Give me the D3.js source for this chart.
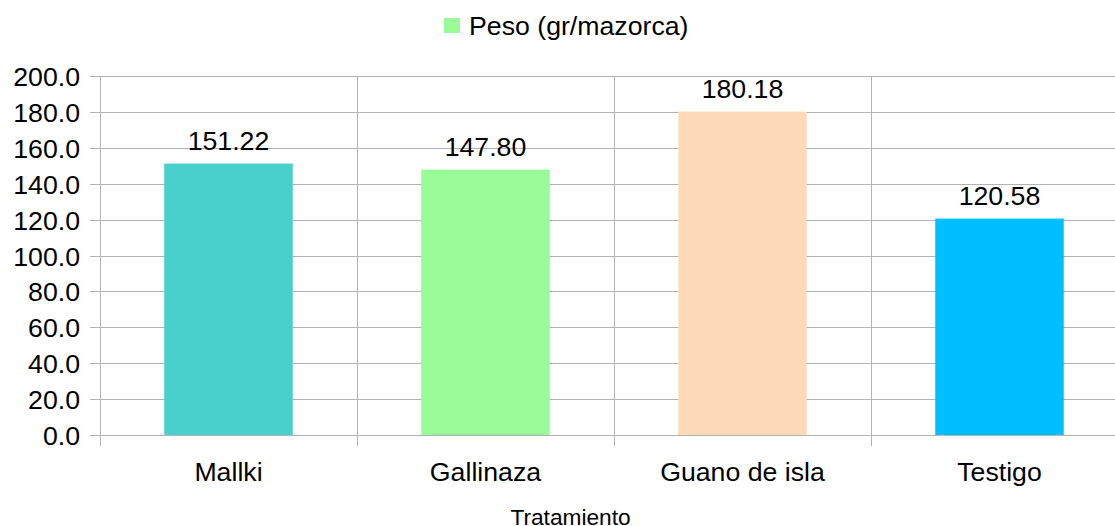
<!DOCTYPE html>
<html>
<head>
<meta charset="utf-8">
<script src="https://cdn.jsdelivr.net/npm/d3@7"></script>
<style>
  html, body { margin: 0; padding: 0; background: #fff; }
  svg { display: block; font-family: "Liberation Sans", Arial, sans-serif; }
</style>
</head>
<body>
<svg id="chart" width="1115" height="526"></svg>
<script>
const categories = ["Mallki", "Gallinaza", "Guano de isla", "Testigo"];
const values = [151.22, 147.80, 180.18, 120.58];
const barColors = ["#48D1CC", "#98FB98", "#FFDAB9", "#00BFFF"];
const yTicks = [0, 20, 40, 60, 80, 100, 120, 140, 160, 180, 200];
const seriesName = "Peso (gr/mazorca)";
const legendColor = "#98FB98";
const xTitle = "Tratamiento";

(function () {
const svg = d3.select("#chart");
const plotLeft = 100, plotRight = 1128, plotTop = 76, plotBottom = 435;
const gridColor = "#b3b3b3";

const x = d3.scaleBand().domain(categories).range([plotLeft, plotRight]).paddingInner(0.5).paddingOuter(0.25);
const y = d3.scaleLinear().domain([0, 200]).range([plotBottom, plotTop]);
const step = x.step();

// horizontal grid + tick marks
svg.append("g").selectAll("line").data(yTicks).join("line")
  .attr("x1", plotLeft - 10).attr("x2", plotRight)
  .attr("y1", d => Math.round(y(d)) + 0.5).attr("y2", d => Math.round(y(d)) + 0.5)
  .attr("stroke", gridColor).attr("stroke-width", 1);

// vertical grid lines at category boundaries
const bounds = categories.map((c, i) => plotLeft + i * step);
svg.append("g").selectAll("line").data(bounds).join("line")
  .attr("x1", d => Math.round(d) + 0.5).attr("x2", d => Math.round(d) + 0.5)
  .attr("y1", plotTop).attr("y2", plotBottom + 11)
  .attr("stroke", gridColor).attr("stroke-width", 1);

// y tick labels
svg.append("g").selectAll("text").data(yTicks).join("text")
  .attr("x", 80).attr("y", d => y(d) + 10)
  .attr("text-anchor", "end")
  .attr("font-size", "26.7px").attr("fill", "#000")
  .text(d => d3.format(".1f")(d));

// bars
svg.append("g").selectAll("rect").data(values).join("rect")
  .attr("x", (d, i) => x(categories[i]))
  .attr("width", x.bandwidth())
  .attr("y", d => y(d))
  .attr("height", d => y(0) - y(d))
  .attr("fill", (d, i) => barColors[i]);

// value labels
svg.append("g").selectAll("text").data(values).join("text")
  .attr("x", (d, i) => x(categories[i]) + x.bandwidth() / 2)
  .attr("y", d => y(d) - 13.5)
  .attr("text-anchor", "middle")
  .attr("font-size", "26.7px").attr("fill", "#000")
  .text(d => d3.format(".2f")(d));

// category labels
svg.append("g").selectAll("text").data(categories).join("text")
  .attr("x", d => x(d) + x.bandwidth() / 2)
  .attr("y", 480.5)
  .attr("text-anchor", "middle")
  .attr("font-size", "26.7px").attr("fill", "#000")
  .text(d => d);

// x axis title
svg.append("text")
  .attr("x", 570.5).attr("y", 524.5)
  .attr("text-anchor", "middle")
  .attr("font-size", "22.7px").attr("fill", "#000")
  .text(xTitle);

// legend
svg.append("rect").attr("x", 444).attr("y", 18).attr("width", 16).attr("height", 15).attr("fill", legendColor);
svg.append("text").attr("x", 469).attr("y", 35)
  .attr("font-size", "26.7px").attr("fill", "#000")
  .text(seriesName);
})();
</script>
</body>
</html>
